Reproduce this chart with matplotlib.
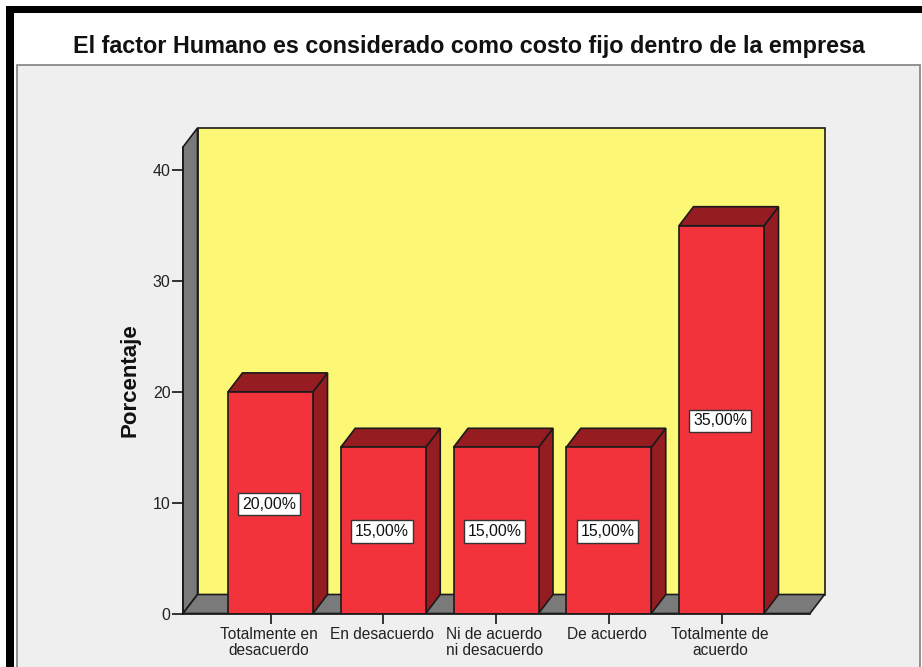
import matplotlib
matplotlib.use("Agg")
import matplotlib.pyplot as plt
from matplotlib.patches import Rectangle, Polygon
from matplotlib.transforms import ScaledTranslation

plt.rcParams['font.family'] = ['Liberation Sans', 'DejaVu Sans']

# data
categories = ["Totalmente en\ndesacuerdo", "En desacuerdo", "Ni de acuerdo\nni desacuerdo",
              "De acuerdo", "Totalmente de\nacuerdo"]
values = [20, 15, 15, 15, 35]
labels = ["20,00%", "15,00%", "15,00%", "15,00%", "35,00%"]
yticks = [0, 10, 20, 30, 40]

W, H = 922, 667
bar_color = "#f2333b"
bar_dark = "#951d22"
wall_color = "#fcf876"
side_color = "#7a7a7a"
panel_color = "#efefef"

fig = plt.figure(figsize=(W / 100, H / 100), dpi=100, facecolor="white")

# --- frame around the chart, in pixel coords ---
bg = fig.add_axes([0, 0, 1, 1], zorder=0)
bg.set_xlim(0, W)
bg.set_ylim(H, 0)
bg.axis("off")
bg.add_patch(Rectangle((6, 6), W - 6, 7, fc="black", ec="none"))
bg.add_patch(Rectangle((6, 6), 8, H - 6, fc="black", ec="none"))
bg.add_patch(Rectangle((17, 64.5), 903, H - 60, fc=panel_color, ec="#808080", lw=1.2))
bg.text(469, 46.5, "El factor Humano es considerado como costo fijo dentro de la empresa",
        ha="center", va="center", fontsize=16.8, fontweight="bold", color="#111111")

# --- main axes is the front plane of the 3D box ---
x0, x1, y_top, y_bot = 183, 810, 147, 613.5
ax = fig.add_axes([x0 / W, 1 - y_bot / H, (x1 - x0) / W, (y_bot - y_top) / H], zorder=1)
px_x = 112.75
px_y = 11.08
ax.set_xlim((x0 - 270.5) / px_x, (x1 - 270.5) / px_x)
ax.set_ylim(0, (y_bot - y_top) / px_y)
ax.patch.set_visible(False)

dx = 14.5 / px_x
dy = 19 / px_y
xa, xb = ax.get_xlim()
yb = ax.get_ylim()[1]


def poly(pts, fc, z):
    ax.add_patch(Polygon(pts, closed=True, fc=fc, ec="#1a1a1a", lw=1.2, zorder=z,
                         clip_on=False, joinstyle="miter"))


# walls and floor
poly([(xa + dx, dy), (xb + dx, dy), (xb + dx, yb + dy), (xa + dx, yb + dy)], wall_color, 1)
poly([(xa, 0), (xa + dx, dy), (xa + dx, yb + dy), (xa, yb)], side_color, 1.1)
poly([(xa, 0), (xb, 0), (xb + dx, dy), (xa + dx, dy)], side_color, 1.1)

# bars
bar_w = 85 / px_x
for i, v in enumerate(values):
    l, r = i - bar_w / 2, i + bar_w / 2
    poly([(r, 0), (r + dx, dy), (r + dx, v + dy), (r, v)], bar_dark, 2)
    poly([(l, v), (r, v), (r + dx, v + dy), (l + dx, v + dy)], bar_dark, 2)
ax.bar(range(len(values)), values, width=bar_w, color=bar_color, edgecolor="#1a1a1a",
       linewidth=1.2, zorder=3)

for i, v in enumerate(values):
    ax.annotate(labels[i], (i, v / 2), xytext=(-1, -1), textcoords="offset points",
                ha="center", va="center", fontsize=11.4, color="#111111", zorder=4,
                bbox=dict(boxstyle="square,pad=0.24", fc="white", ec="#333333", lw=1.0))

for s in ["top", "right"]:
    ax.spines[s].set_visible(False)
for s in ["left", "bottom"]:
    ax.spines[s].set_linewidth(1.2)
    ax.spines[s].set_color("#1a1a1a")
    ax.spines[s].set_zorder(5)

ax.set_yticks(yticks)
ax.set_xticks(range(len(values)))
ax.set_xticklabels(categories, linespacing=1.12)
ax.tick_params(axis="y", length=8, width=1.1, pad=1.0, labelsize=11.5, labelcolor="#222222")
ax.tick_params(axis="x", length=7.5, width=1.1, pad=2, labelsize=11.2, labelcolor="#222222")
# the labels sit a touch left of their ticks in the original
shift = ScaledTranslation(-1.5 / 100, 0, fig.dpi_scale_trans)
for lab in ax.get_xticklabels():
    lab.set_transform(lab.get_transform() + shift)
fig.text(130 / W, 1 - 380 / H, "Porcentaje", rotation=90, ha="center", va="center",
         fontsize=16, fontweight="bold", color="#111111")

fig.savefig("out.png", dpi=100)
